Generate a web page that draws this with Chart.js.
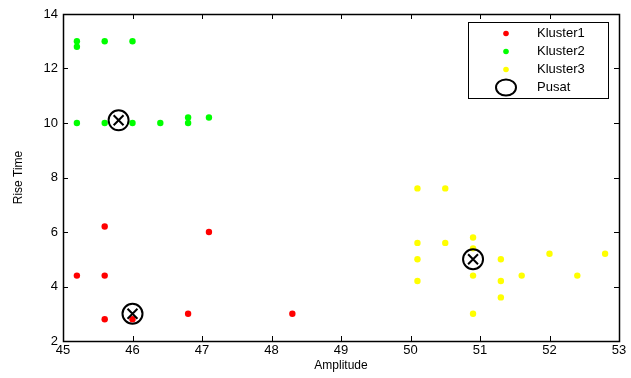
<!DOCTYPE html>
<html lang="id">
<head>
  <meta charset="UTF-8">
  <title>Kluster Amplitude - Rise Time</title>
  <script src="https://cdn.jsdelivr.net/npm/chart.js"></script>
  <style>
    body { margin: 0; background: #fff; }
    .wrap { width: 631px; height: 378px; }
  </style>
</head>
<body>
  <div class="wrap"><canvas id="klusterChart"></canvas></div>
  <script>
    // Data hasil klustering (Amplitude vs Rise Time)
    const kluster1X = [45.6, 47.1, 45.2, 45.6, 45.6, 46.0, 46.8, 48.3];
    const kluster1Y = [6.2, 6.0, 4.4, 4.4, 2.8, 2.8, 3.0, 3.0];

    const kluster2X = [45.2, 45.2, 45.6, 46.0, 45.2, 45.6, 46.0, 46.4, 46.8, 46.8, 47.1];
    const kluster2Y = [13.0, 12.8, 13.0, 13.0, 10.0, 10.0, 10.0, 10.0, 10.0, 10.2, 10.2];

    const kluster3X = [50.1, 50.5, 50.1, 50.5, 50.9, 50.9, 50.1, 51.3, 52.0, 52.8, 50.9, 50.1, 51.3, 51.6, 52.4, 51.3, 50.9];
    const kluster3Y = [7.6, 7.6, 5.6, 5.6, 5.8, 5.4, 5.0, 5.0, 5.2, 5.2, 4.4, 4.2, 4.2, 4.4, 4.4, 3.6, 3.0];

    const pusatX = [45.8, 46.0, 50.9];
    const pusatY = [10.1, 3.0, 5.0];

    const xTicks = [45, 46, 47, 48, 49, 50, 51, 52, 53];
    const yTicks = [2, 4, 6, 8, 10, 12, 14];

    const legendLabels = ['Kluster1', 'Kluster2', 'Kluster3', 'Pusat'];
    const warna = ['#ff0000', '#00ff00', '#ffff00', '#000000'];

    const toPoints = (xs, ys) => xs.map((x, i) => ({ x: x, y: ys[i] }));

    function dotSet(label, xs, ys, color) {
      return {
        label: label,
        data: toPoints(xs, ys),
        pointStyle: 'circle',
        pointRadius: 3.2,
        pointBackgroundColor: color,
        pointBorderColor: color,
        pointBorderWidth: 0,
        order: 5
      };
    }

    const fontFam = 'Liberation Sans, Arial, sans-serif';
    const fontTick = { family: fontFam, size: 13 };

    // kotak sumbu + tick ke dalam + legenda
    const matlabAxes = {
      id: 'matlabAxes',
      afterDraw(chart) {
        const ctx = chart.ctx;
        const a = chart.chartArea;
        const xs = chart.scales.x, ys = chart.scales.y;
        ctx.save();
        ctx.strokeStyle = '#000';
        ctx.lineWidth = 1;
        ctx.beginPath();
        xTicks.forEach(v => {
          const px = Math.round(xs.getPixelForValue(v)) + 0.5;
          ctx.moveTo(px, a.bottom); ctx.lineTo(px, a.bottom - 5);
          ctx.moveTo(px, a.top); ctx.lineTo(px, a.top + 5);
        });
        yTicks.forEach(v => {
          const py = Math.round(ys.getPixelForValue(v)) + 0.5;
          ctx.moveTo(a.left, py); ctx.lineTo(a.left + 5, py);
          ctx.moveTo(a.right, py); ctx.lineTo(a.right - 5, py);
        });
        ctx.stroke();
        ctx.lineWidth = 1.5;
        ctx.strokeRect(Math.round(a.left) + 0.5, Math.round(a.top) + 0.5,
          Math.round(a.right - a.left), Math.round(a.bottom - a.top));

        // legenda
        const lx = 468, ly = 22, lw = 140, lh = 76;
        ctx.fillStyle = '#fff';
        ctx.fillRect(lx, ly, lw, lh);
        ctx.lineWidth = 1;
        ctx.strokeRect(lx + 0.5, ly + 0.5, lw, lh);
        ctx.font = '13px ' + fontFam;
        ctx.textBaseline = 'middle';
        legendLabels.forEach((t, i) => {
          const cy = 33.5 + i * 18;
          if (i < 3) {
            ctx.fillStyle = warna[i];
            ctx.beginPath();
            ctx.arc(506, cy, 2.8, 0, Math.PI * 2);
            ctx.fill();
          } else {
            ctx.lineWidth = 2;
            ctx.strokeStyle = '#000';
            ctx.beginPath();
            ctx.ellipse(506, cy, 10, 8, 0, 0, Math.PI * 2);
            ctx.stroke();
          }
          ctx.fillStyle = '#000';
          ctx.fillText(t, 537, cy);
        });
        ctx.restore();
      }
    };

    new Chart(document.getElementById('klusterChart'), {
      type: 'scatter',
      data: {
        datasets: [
          {
            label: 'Pusat',
            data: toPoints(pusatX, pusatY),
            pointStyle: 'circle',
            pointRadius: 10,
            pointBackgroundColor: 'rgba(0,0,0,0)',
            pointBorderColor: '#000',
            pointBorderWidth: 2,
            order: 1
          },
          {
            label: 'Pusat X',
            data: toPoints(pusatX, pusatY),
            pointStyle: 'crossRot',
            pointRadius: 7,
            pointBorderColor: '#000',
            pointBorderWidth: 2,
            order: 0
          },
          dotSet('Kluster1', kluster1X, kluster1Y, warna[0]),
          dotSet('Kluster2', kluster2X, kluster2Y, warna[1]),
          dotSet('Kluster3', kluster3X, kluster3Y, warna[2])
        ]
      },
      options: {
        responsive: true,
        maintainAspectRatio: false,
        animation: false,
        layout: { padding: { top: 14, right: 7, left: 11, bottom: 5 } },
        plugins: { legend: { display: false }, tooltip: { enabled: false } },
        scales: {
          x: {
            type: 'linear',
            min: 45, max: 53,
            grid: { display: false, drawTicks: false },
            border: { display: false },
            afterFit(scale) {
              scale.height = 32;
              scale.paddingLeft = 0;
              scale.paddingRight = 0;
            },
            afterBuildTicks(scale) { scale.ticks = xTicks.map(v => ({ value: v })); },
            ticks: { color: '#000', font: fontTick, padding: 2, maxRotation: 0 },
            title: { display: true, text: 'Amplitude', color: '#000', font: { family: fontFam, size: 12 }, padding: { top: 0, bottom: 0 } }
          },
          y: {
            type: 'linear',
            min: 2, max: 14,
            grid: { display: false, drawTicks: false },
            border: { display: false },
            afterFit(scale) {
              scale.width = 52;
              scale.paddingTop = 0;
              scale.paddingBottom = 0;
            },
            afterBuildTicks(scale) { scale.ticks = yTicks.map(v => ({ value: v })); },
            ticks: { color: '#000', font: fontTick, padding: 5 },
            title: { display: true, text: 'Rise Time', color: '#000', font: { family: fontFam, size: 12 }, padding: { top: 0, bottom: 0 } }
          }
        }
      },
      plugins: [matlabAxes]
    });
  </script>
</body>
</html>
